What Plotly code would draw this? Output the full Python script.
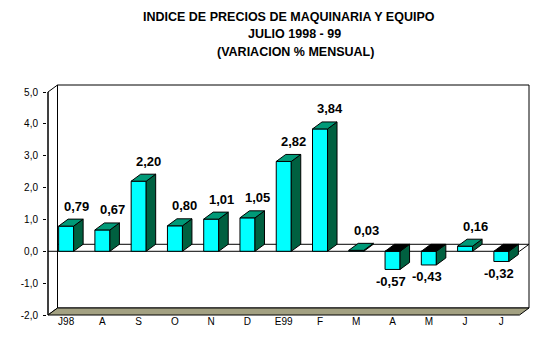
import plotly.graph_objects as go

# Monthly variation of the machinery & equipment price index
categories = ["J98", "A", "S", "O", "N", "D", "E99", "F", "M", "A", "M", "J", "J"]
values = [0.79, 0.67, 2.20, 0.80, 1.01, 1.05, 2.82, 3.84, 0.03, -0.57, -0.43, 0.16, -0.32]
y_ticks = [-2, -1, 0, 1, 2, 3, 4, 5]
y_tick_text = ["-2,0", "-1,0", "0,0", "1,0", "2,0", "3,0", "4,0", "5,0"]
title_lines = [
    "INDICE DE PRECIOS DE MAQUINARIA Y EQUIPO",
    "JULIO 1998 - 99",
    "(VARIACION % MENSUAL)",
]

# pseudo-3D geometry (pixel scale of the axes, depth offset of the box)
W, H = 550, 338
PX_X = 36.25          # pixels per category
PX_Y = 31.86          # pixels per unit of y
DEPTH_X = 9.5 / PX_X  # depth shift in x units
DEPTH_Y = 7.0 / PX_Y  # depth shift in y units
HALF = 7.5 / PX_X     # half width of a column's front face
EX, EY = 1 / PX_X, 1 / PX_Y
Y_MIN, Y_MAX = -2, 5
X0, X1 = -0.5, len(values) - 0.5

x_range = [X0 - EX, X1 + DEPTH_X + EX]
y_range = [Y_MIN - EY, Y_MAX + DEPTH_Y + EY]
plot_w = (x_range[1] - x_range[0]) * PX_X
plot_h = (y_range[1] - y_range[0]) * PX_Y
m_l, m_t = 47, 84
m_r = W - m_l - plot_w
m_b = H - m_t - plot_h

CYAN = "#00FFFF"
SIDE = "#006040"
TOP = "#009A78"
FLOOR = "#A3A182"
EDGE = dict(color="black", width=1)

fig = go.Figure()


def poly(xs, ys, fill):
    fig.add_trace(go.Scatter(
        x=xs, y=ys, mode="lines", fill="toself", fillcolor=fill,
        line=EDGE, hoverinfo="skip", showlegend=False))


def seg(xs, ys):
    fig.add_trace(go.Scatter(
        x=xs, y=ys, mode="lines", line=EDGE, hoverinfo="skip", showlegend=False))


# walls and floor of the box
poly([X0 + DEPTH_X, X1 + DEPTH_X, X1 + DEPTH_X, X0 + DEPTH_X, X0 + DEPTH_X],
     [Y_MIN + DEPTH_Y, Y_MIN + DEPTH_Y, Y_MAX + DEPTH_Y, Y_MAX + DEPTH_Y, Y_MIN + DEPTH_Y], "white")
poly([X0, X0 + DEPTH_X, X0 + DEPTH_X, X0, X0],
     [Y_MIN, Y_MIN + DEPTH_Y, Y_MAX + DEPTH_Y, Y_MAX, Y_MIN], "white")
poly([X0, X1, X1 + DEPTH_X, X0 + DEPTH_X, X0],
     [Y_MIN, Y_MIN, Y_MIN + DEPTH_Y, Y_MIN + DEPTH_Y, Y_MIN], FLOOR)

# zero plane outline
seg([X0, X1, X1 + DEPTH_X], [0, 0, DEPTH_Y])
seg([X0 + DEPTH_X, X1 + DEPTH_X], [DEPTH_Y, DEPTH_Y])

# columns: front, side and top faces
for i, v in enumerate(values):
    xl, xr = i - HALF, i + HALF
    top_y = max(v, 0)
    poly([xl, xr, xr, xl, xl], [0, 0, v, v, 0], CYAN)
    poly([xr, xr + DEPTH_X, xr + DEPTH_X, xr, xr],
         [0, DEPTH_Y, v + DEPTH_Y, v, 0], SIDE)
    poly([xl, xr, xr + DEPTH_X, xl + DEPTH_X, xl],
         [top_y, top_y, top_y + DEPTH_Y, top_y + DEPTH_Y, top_y],
         TOP if v > 0 else "black")

# front value axis
seg([X0, X0], [Y_MIN, Y_MAX])

# value labels
annotations = []
for i, v in enumerate(values):
    text = f"{v:.2f}".replace(".", ",")
    annotations.append(dict(
        x=i, y=v, xref="x", yref="y", text=f"<b>{text}</b>", showarrow=False,
        xanchor="center", yanchor="middle",
        xshift=10 if v > 0 else -2, yshift=20 if v > 0 else -12,
        font=dict(family="Liberation Sans", size=13, color="black")))

# title lines, placed by figure pixel position
for line, px_x, px_y in zip(title_lines, [288.5, 294.5, 295.5], [17, 34.3, 51.7]):
    annotations.append(dict(
        x=(px_x - m_l) / plot_w, y=1 - (px_y - m_t) / plot_h,
        xref="paper", yref="paper",
        text=f"<b>{line}</b>", showarrow=False, xanchor="center", yanchor="middle",
        font=dict(family="Liberation Sans", size=12.5, color="black")))

fig.update_layout(
    width=W, height=H,
    margin=dict(l=m_l, r=m_r, t=m_t, b=m_b, pad=0, autoexpand=False),
    paper_bgcolor="white", plot_bgcolor="white",
    showlegend=False,
    annotations=annotations,
    xaxis=dict(
        range=x_range, showgrid=False, zeroline=False, showline=False,
        automargin=False,
        tickvals=list(range(len(categories))), ticktext=categories,
        ticks="", ticklabelstandoff=-2,
        tickfont=dict(family="Liberation Sans", size=10, color="black"),
        fixedrange=True),
    yaxis=dict(
        range=y_range, showgrid=False, zeroline=False, showline=False,
        automargin=False,
        tickvals=y_ticks, ticktext=y_tick_text,
        ticks="outside", ticklen=3, tickcolor="black", tickwidth=1,
        ticklabelstandoff=3,
        tickfont=dict(family="Liberation Sans", size=10, color="black"),
        fixedrange=True),
)

fig.write_html("out.html")
